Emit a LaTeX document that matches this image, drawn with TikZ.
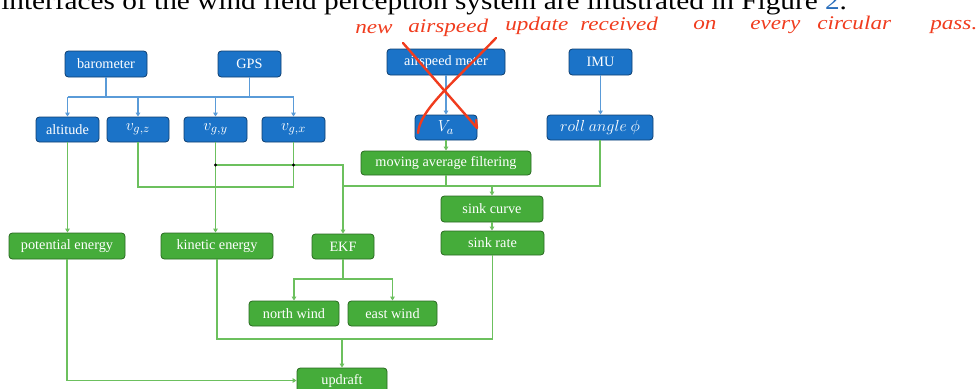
\documentclass[tikz,border=0pt]{standalone}
\usepackage{fontspec}
\setmainfont{Liberation Serif}
\newfontfamily\leadfont[FakeStretch=1.15]{Liberation Serif}
\newfontfamily\penfont[FakeStretch=1.2]{Liberation Serif}
\usetikzlibrary{arrows.meta}

\definecolor{boxblue}{HTML}{1B73C8}
\definecolor{edgeblue}{HTML}{0F3F70}
\definecolor{boxgreen}{HTML}{45AC3A}
\definecolor{edgegreen}{HTML}{2A6A22}
\definecolor{lineblue}{HTML}{5A9BD8}
\definecolor{linegreen}{HTML}{6CC05E}
\definecolor{inkred}{HTML}{F03C1E}
\definecolor{refblue}{HTML}{2A6EBB}

\begin{document}
\begin{tikzpicture}[x=0.75pt,y=-0.75pt,
  box/.style={rounded corners=2.5pt, line width=0.6pt, text=white,
    font=\fontsize{10.7pt}{12pt}\selectfont, inner sep=0pt},
  mathtext/.style={font=\fontsize{12.5pt}{14pt}\selectfont},
  sz/.style 2 args={minimum width=#1*0.75pt, minimum height=#2*0.75pt},
  bbox/.style={box, fill=boxblue, draw=edgeblue},
  gbox/.style={box, fill=boxgreen, draw=edgegreen},
  bline/.style={draw=lineblue, line width=0.85pt},
  gline/.style={draw=linegreen, line width=0.85pt},
  tip/.style={-{Triangle[length=3pt,width=3.4pt]}},
  jdot/.style={circle, fill=black, inner sep=0pt, minimum size=2.6pt},
  ink/.style={draw=inkred, line width=1.8pt, line cap=round, line join=round},
  note/.style={text=inkred, font=\penfont\fontsize{14.5pt}{16pt}\selectfont\itshape,
    anchor=base west, inner sep=0pt},
]
\useasboundingbox (0,0) rectangle (979,389);

% running text above the figure
\node[anchor=base west, inner sep=0pt,
  font=\leadfont\fontsize{19.1pt}{21pt}\selectfont] (lead) at (1,10)
  {interfaces of the wind field perception system are illustrated in Figure \textcolor{refblue}{2}.};

% sensors
\node[bbox, sz={82}{26}]  (baro) at (106,64)   {barometer};
\node[bbox, sz={63}{26}]  (gps)  at (249.5,64) {GPS};
\node[bbox, sz={118}{26}] (asm)  at (446,62)   {airspeed meter};
\node[bbox, sz={63}{26}]  (imu)  at (600.5,62) {IMU};

% measured quantities
\node[bbox, sz={63}{25}]  (alt)  at (67.5,129.5)  {altitude};
\node[bbox, mathtext, sz={62}{25}]  (vgz)  at (138,129.5)   {$v_{g,z}$};
\node[bbox, mathtext, sz={63}{25}]  (vgy)  at (215.5,129.5) {$v_{g,y}$};
\node[bbox, mathtext, sz={63}{25}]  (vgx)  at (293.5,129.5) {$v_{g,x}$};
\node[bbox, mathtext, sz={62}{25}]  (va)   at (446,127.5)   {$V_a$};
\node[bbox, font=\fontsize{11.5pt}{13pt}\selectfont, sz={106}{25}] (roll) at (600,127.5) {$roll\ angle\ \phi$};

% processing stages
\node[gbox, sz={170}{24}] (maf)   at (446,163)    {moving average filtering};
\node[gbox, sz={102}{26}] (sinkc) at (492,209)    {sink curve};
\node[gbox, sz={103}{24}] (sinkr) at (492.5,243)  {sink rate};
\node[gbox, sz={116}{26}] (pe)    at (67,246)     {potential energy};
\node[gbox, sz={112}{26}] (ke)    at (217,246)    {kinetic energy};
\node[gbox, sz={62}{25}]  (ekf)   at (343,246.5)  {EKF};
\node[gbox, sz={90}{25}]  (nw)    at (294,313.5)  {north wind};
\node[gbox, sz={89}{25}]  (ew)    at (392.5,313.5){east wind};
\node[gbox, sz={90}{25}]  (upd)   at (342,380.5)  {updraft};

% rows of the connector buses
\coordinate (bus)  at (0,97);
\coordinate (jrow) at (0,165);
\coordinate (lrow) at (0,187);
\coordinate (srow) at (0,186);
\coordinate (erow) at (0,279);
\coordinate (krow) at (0,339);

% sensor outputs
\draw[bline] (alt.north |- bus) -- (vgx.north |- bus);
\draw[bline] (baro.south) -- (baro.south |- bus);
\draw[bline] (gps.south) -- (gps.south |- bus);
\foreach \n in {alt,vgz,vgy,vgx}
  \draw[bline,tip] (\n.north |- bus) -- (\n.north);
\draw[bline,tip] (asm) -- (va);
\draw[bline,tip] (imu.south) -- (imu.south |- roll.north);

% processing links
\draw[gline,tip] (va) -- (maf);
\draw[gline,tip] (alt.south) -- (alt.south |- pe.north);
\draw[gline,tip] (vgy.south) -- (vgy.south |- ke.north);
\draw[gline] (vgz.south) |- (vgx.south |- lrow) -- (vgx.south);
\draw[gline,tip] (vgy.south |- jrow) -| (ekf.north);
\node[jdot] (j1) at (vgy.south |- jrow) {};
\node[jdot] (j2) at (vgx.south |- jrow) {};
\draw[gline] (roll.south) |- (ekf.north |- srow);
\draw[gline] (maf.south) -- (maf.south |- srow);
\draw[gline,tip] (sinkc.north |- srow) -- (sinkc.north);
\draw[gline,tip] (sinkc.south) -- (sinkc.south |- sinkr.north);
\draw[gline] (ekf.south) -- (ekf.south |- erow);
\draw[gline,tip] (ekf.south |- erow) -| (nw.north);
\draw[gline,tip] (ekf.south |- erow) -| (ew.north);
\draw[gline] (ke.south) |- (sinkr.south |- krow) -- (sinkr.south);
\draw[gline,tip] (upd.north |- krow) -- (upd.north);
\draw[gline,tip] (pe.south) |- (upd.west);

% red pen: cross over the airspeed branch
\draw[ink] (403,43) -- (477,128) -- (476,120);
\draw[ink] (496,38) .. controls (450,86) and (420,110) .. (418,133);

% red pen: handwritten remark
\node[note] (h1) at (355,33) {new};
\node[note] (h2) at (408,32) {airspeed};
\node[note] (h3) at (505,31) {update};
\node[note] (h4) at (580,31) {received};
\node[note] (h5) at (693,29) {on};
\node[note] (h6) at (750,29) {every};
\node[note] (h7) at (817,29) {circular};
\node[note] (h8) at (930,30) {pass.};
\end{tikzpicture}
\end{document}
